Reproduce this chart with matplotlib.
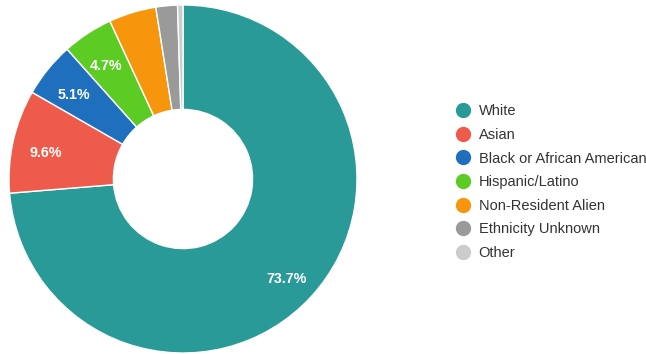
import matplotlib.pyplot as plt
from matplotlib.lines import Line2D

plt.rcParams['font.family'] = ['Liberation Sans', 'DejaVu Sans']

# 族裔构成
categories = ['White', 'Asian', 'Black or African American', 'Hispanic/Latino',
              'Non-Resident Alien', 'Ethnicity Unknown', 'Other']
shares = [73.7, 9.6, 5.1, 4.7, 4.4, 2.0, 0.5]
colors = ['#2a9a98', '#ef5b4b', '#1f6fbf', '#5ccb23', '#f7960c', '#9a9a9a', '#cccccc']

fig = plt.figure(figsize=(6.46, 3.54), dpi=100)
ax = fig.add_axes([9 / 646, 1 / 354, 348 / 646, 348 / 354])


def pct_label(p):
    # 小扇区不标数值
    return f'{p:.1f}%' if p >= 4.5 else ''


wedges, texts, autotexts = ax.pie(
    shares, colors=colors, startangle=90, counterclock=False,
    autopct=pct_label, pctdistance=0.81,
    wedgeprops=dict(width=0.6, edgecolor='white', linewidth=1),
    textprops=dict(color='white', fontsize=10.3, fontweight='bold'))
for t in autotexts:
    t.set_y(t.get_position()[1] - 0.025)
ax.set_xlim(-1, 1)
ax.set_ylim(-1, 1)
ax.set_aspect('equal')
ax.axis('off')

handles = [Line2D([], [], marker='o', linestyle='', markersize=10,
                  markerfacecolor=c, markeredgecolor=c) for c in colors]
fig.legend(handles, categories, loc='upper left', bbox_to_anchor=(448 / 646, 1 - 98.5 / 354),
           frameon=False, fontsize=10.5, labelspacing=0.66, handletextpad=0.5,
           handlelength=1.2, labelcolor='#333333', borderaxespad=0)

fig.savefig('out.png', dpi=100)
